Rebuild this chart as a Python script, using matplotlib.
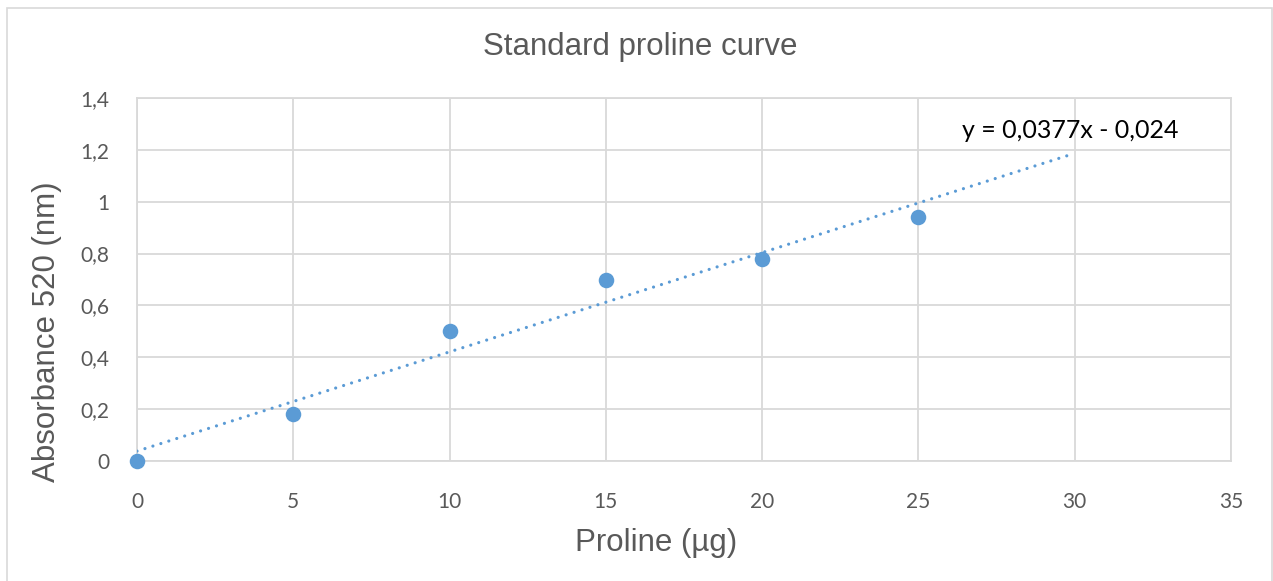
import numpy as np
import matplotlib

matplotlib.use("Agg")
import matplotlib.pyplot as plt
from matplotlib.patches import Rectangle

# standard curve readings
proline_ug = [0, 5, 10, 15, 20, 25]
absorbance = [0.0, 0.18, 0.50, 0.70, 0.78, 0.94]
x_ticks = [0, 5, 10, 15, 20, 25, 30, 35]
y_ticks = [0, 0.2, 0.4, 0.6, 0.8, 1.0, 1.2, 1.4]
equation = "y = 0,0377x - 0,024"

blue = "#5B9BD5"
grid_c = "#D9D9D9"
text_c = "#595959"


def comma(v: float) -> str:
    s = f"{v:g}"
    return s.replace(".", ",")


fig = plt.figure(figsize=(12.73, 5.81), dpi=100)
fig.patches.append(Rectangle((7 / 1273, -0.01), 1265 / 1273, 573 / 581 + 0.01,
                             transform=fig.transFigure, fill=False,
                             edgecolor=grid_c, linewidth=1.2))

ax = fig.add_axes([137 / 1273, 1 - 461 / 581, 1094 / 1273, 363 / 581])
ax.set_xlim(0, 35)
ax.set_ylim(0, 1.4)

# linear trendline, forecast forward to 30
coef = np.polyfit(proline_ug, absorbance, 1)
xl = np.array([0, 29.8])
ax.plot(xl, np.polyval(coef, xl), linestyle=(0, (0.01, 2.6)), color=blue,
        linewidth=2.3, dash_capstyle="round", zorder=3)
ax.scatter(proline_ug, absorbance, s=125, color=blue, zorder=4,
           clip_on=False, linewidths=0)

ax.set_xticks(x_ticks)
ax.set_yticks(y_ticks)
ax.set_xticklabels([comma(v) for v in x_ticks])
ax.set_yticklabels([comma(v) for v in y_ticks])
ax.grid(True, color=grid_c, linewidth=1.3)
ax.set_axisbelow(True)
for sp in ax.spines.values():
    sp.set_color(grid_c)
    sp.set_linewidth(1.3)
ax.tick_params(axis="x", length=0, pad=22, labelsize=15, labelcolor=text_c)
ax.tick_params(axis="y", length=0, pad=20, labelsize=15, labelcolor=text_c)
for lab in ax.get_xticklabels() + ax.get_yticklabels():
    lab.set_family("Lato")

ax.text(26.4, 1.273, equation, fontsize=18, family="Lato", color="black",
        ha="left", va="center")

fig.text(0.503, 1 - 47 / 581, "Standard proline curve", ha="center",
         va="center", fontsize=22.5, color=text_c, family="Liberation Sans")
fig.text(656 / 1273, 1 - 543 / 581, "Proline (µg)", ha="center",
         va="center", fontsize=22.5, color=text_c, family="Liberation Sans")
fig.text(47 / 1273, 1 - 332 / 581, "Absorbance 520 (nm)", ha="center",
         va="center", rotation=90, fontsize=22.5, color=text_c,
         family="Liberation Sans")

fig.savefig("out.png", dpi=100)
